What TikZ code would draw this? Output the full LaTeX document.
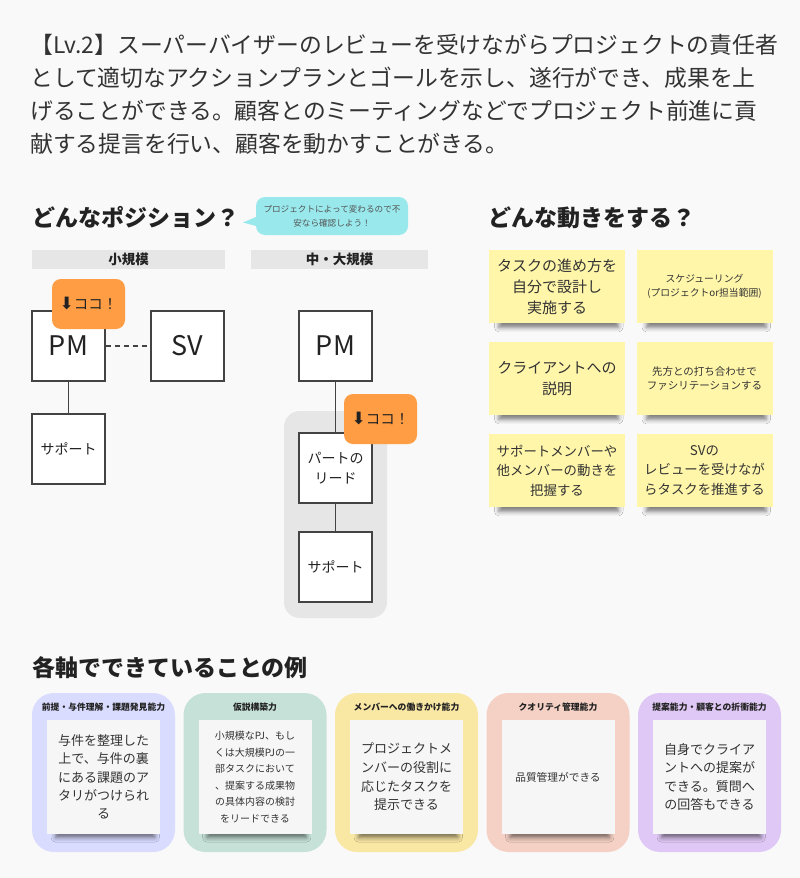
\documentclass[tikz,border=0pt]{standalone}
\usepackage{fontspec}
\setmainfont{Noto Sans CJK JP}
\newfontfamily\arrowfont{DejaVu Sans}
\usetikzlibrary{shadows.blur}

\definecolor{paper}{HTML}{F9F9F9}
\definecolor{inkdark}{HTML}{222222}
\definecolor{inktext}{HTML}{333333}
\definecolor{inksoft}{HTML}{555555}
\definecolor{barcol}{HTML}{E6E6E6}
\definecolor{groupcol}{HTML}{E6E6E6}
\definecolor{cocoorange}{HTML}{FF9D45}
\definecolor{tipcyan}{HTML}{98E8EC}
\definecolor{stickyyel}{HTML}{FFF6AA}
\definecolor{memowhite}{HTML}{F6F6F7}
\definecolor{axisblue}{HTML}{D9DBFF}
\definecolor{axisgreen}{HTML}{C6E2D8}
\definecolor{axisyellow}{HTML}{F9E7A4}
\definecolor{axisred}{HTML}{F5D1C5}
\definecolor{axispurple}{HTML}{DFC8F5}

\newcommand{\cocoarrow}{{\arrowfont\fontsize{17}{17}\selectfont ⬇}}

\tikzset{
  headline/.style={anchor=base west, inner sep=0pt, text=inktext,
    font=\fontsize{22.8}{30}\selectfont},
  heading/.style={anchor=base west, inner sep=0pt, text=inkdark,
    font=\bfseries\fontsize{23}{28}\selectfont},
  scalebar/.style={fill=barcol, minimum height=19pt, inner sep=0pt, text=inkdark,
    font=\bfseries\fontsize{13.5}{16}\selectfont},
  rolebox/.style={draw=inkdark!85, line width=1.3pt, fill=white, minimum width=73pt,
    minimum height=70pt, inner sep=0pt, align=center, text=inkdark},
  link/.style={draw=inkdark!85, line width=1.1pt},
  coco/.style={fill=cocoorange, rounded corners=9pt, minimum width=73pt,
    minimum height=50pt, inner sep=0pt, text=inkdark, font=\fontsize{14.5}{16}\selectfont},
  tip/.style={fill=tipcyan, rounded corners=9pt, minimum width=152pt, minimum height=38pt,
    inner sep=0pt, align=center, text=inksoft, font=\fontsize{8.6}{13.5}\selectfont},
  sticky/.style={fill=stickyyel, minimum width=136pt, minimum height=73pt, inner sep=0pt,
    align=center, text=inktext,
    blur shadow={shadow xshift=2pt, shadow yshift=-10pt, shadow blur radius=5pt,
      shadow opacity=50, shadow scale=0.88}},
  axis/.style={rounded corners=22pt, minimum width=143pt, minimum height=159pt, inner sep=0pt},
  axistitle/.style={inner sep=0pt, text=inkdark, font=\bfseries\fontsize{8.8}{10}\selectfont},
  memo/.style={fill=memowhite, minimum width=113pt, minimum height=114pt, inner sep=0pt,
    align=center, text=inktext,
    blur shadow={shadow xshift=2pt, shadow yshift=-12pt, shadow blur radius=5pt,
      shadow opacity=50, shadow scale=0.88}},
}

\begin{document}
\begin{tikzpicture}[x=1pt,y=-1pt]

\fill[paper] (0,0) rectangle (800,878);
\useasboundingbox (0,0) rectangle (800,878);

% lead text
\node[headline] (lead1) at (30,53.5) {【Lv.2】スーパーバイザーのレビューを受けながらプロジェクトの責任者};
\node[headline] (lead2) at (30,86.5) {として適切なアクションプランとゴールを示し、遂行ができ、成果を上};
\node[headline] (lead3) at (30,119.5) {げることができる。顧客とのミーティングなどでプロジェクト前進に貢};
\node[headline] (lead4) at (30,152) {献する提言を行い、顧客を動かすことがきる。};

% positions
\node[heading] (posttl) at (32,226.5) {どんなポジション？};
\node[tip] (tipbox) at (332,216) {プロジェクトによって変わるので不\\安なら確認しよう！};
\coordinate (tiptail) at (243,222.5);
\fill[tipcyan] (256,217) -- (tiptail) -- (256,226) -- cycle;

\node[scalebar, minimum width=193pt] (small) at (128.5,259.5) {小規模};
\node[scalebar, minimum width=177pt] (large) at (339.5,259.5) {中・大規模};

\fill[groupcol, rounded corners=16pt] (284,411) rectangle (387,618);

\node[rolebox, font=\fontsize{27}{30}\selectfont] (pmS) at (68.5,346) {PM};
\node[rolebox, font=\fontsize{27}{30}\selectfont] (svS) at (187.5,346) {SV};
\node[rolebox, font=\fontsize{14}{20}\selectfont] (supS) at (68.5,449) {サポート};

\node[rolebox, font=\fontsize{27}{30}\selectfont] (pmL) at (335.5,346) {PM};
\node[rolebox, font=\fontsize{14}{20}\selectfont] (leadL) at (335.5,468) {パートの\\リード};
\node[rolebox, font=\fontsize{14}{20}\selectfont] (supL) at (335.5,567) {サポート};

\draw[link, dash pattern=on 5pt off 4pt] (pmS) -- (svS);
\draw[link] (pmS) -- (supS);
\draw[link] (pmL) -- (leadL);
\draw[link] (leadL) -- (supL);

\node[coco] (cocoS) at (88.5,304) {\cocoarrow ココ！};
\node[coco] (cocoL) at (380.5,419) {\cocoarrow ココ！};

% moves
\node[heading] (movttl) at (488,226.5) {どんな動きをする？};

\node[sticky, font=\fontsize{15}{21}\selectfont] (mv1) at (557,286.5) {タスクの進め方を\\自分で設計し\\実施する};
\node[sticky, font=\fontsize{9.8}{14}\selectfont] (mv2) at (704.5,286.5) {スケジューリング\\(プロジェクトor担当範囲)};
\node[sticky, font=\fontsize{15}{21}\selectfont] (mv3) at (557,378.5) {クライアントへの\\説明};
\node[sticky, font=\fontsize{10.5}{14.5}\selectfont] (mv4) at (704.5,378.5) {先方との打ち合わせで\\ファシリテーションする};
\node[sticky, font=\fontsize{13.4}{19.5}\selectfont] (mv5) at (557,470.5) {サポートメンバーや\\他メンバーの動きを\\把握する};
\node[sticky, font=\fontsize{13.4}{19.5}\selectfont] (mv6) at (704.5,470.5) {SVの\\レビューを受けなが\\らタスクを推進する};

% examples per axis
\node[heading] (extl) at (32,676.5) {各軸でできていることの例};

\node[axis, fill=axisblue] (ax1) at (103.5,772.5) {};
\node[axis, fill=axisgreen] (ax2) at (255,772.5) {};
\node[axis, fill=axisyellow] (ax3) at (406.5,772.5) {};
\node[axis, fill=axisred] (ax4) at (558,772.5) {};
\node[axis, fill=axispurple] (ax5) at (709.5,772.5) {};

\node[axistitle] (ax1t) at (103.5,707) {前提・与件理解・課題発見能力};
\node[axistitle] (ax2t) at (255,707) {仮説構築力};
\node[axistitle] (ax3t) at (406.5,707) {メンバーへの働きかけ能力};
\node[axistitle] (ax4t) at (558,707) {クオリティ管理能力};
\node[axistitle] (ax5t) at (709.5,707) {提案能力・顧客との折衝能力};

\node[memo, font=\fontsize{13}{18.3}\selectfont] (ex1) at (103.5,777) {与件を整理した\\上で、与件の裏\\にある課題のア\\タリがつけられ\\る};
\node[memo, font=\fontsize{10}{16.5}\selectfont] (ex2) at (255,777) {小規模なPJ、もし\\くは大規模PJの一\\部タスクにおいて\\、提案する成果物\\の具体内容の検討\\をリードできる};
\node[memo, font=\fontsize{13}{18.6}\selectfont] (ex3) at (406.5,777) {プロジェクトメ\\ンバーの役割に\\応じたタスクを\\提示できる};
\node[memo, font=\fontsize{10.7}{15}\selectfont] (ex4) at (558,777) {品質管理ができる};
\node[memo, font=\fontsize{13}{18.6}\selectfont] (ex5) at (709.5,777) {自身でクライア\\ントへの提案が\\できる。質問へ\\の回答もできる};

\end{tikzpicture}
\end{document}
